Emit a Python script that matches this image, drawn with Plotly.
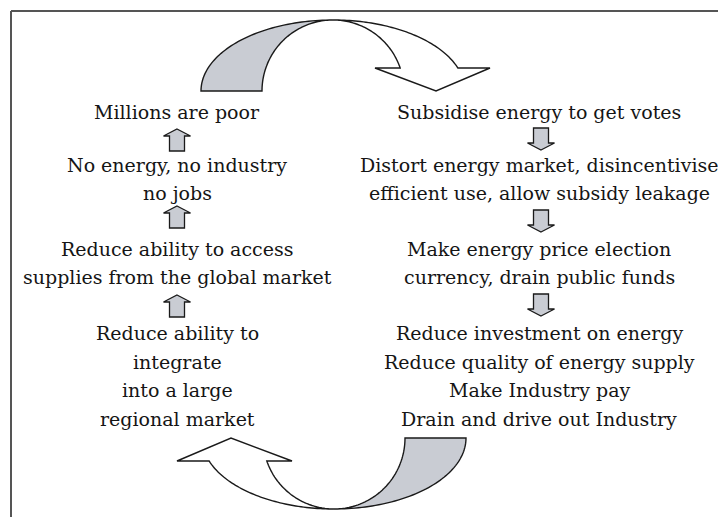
import numpy as np
import plotly.graph_objects as go

W, H = 718, 517

# Text content of the cycle diagram
left_lines = ["Millions are poor", "No energy, no industry", "no jobs",
              "Reduce ability to access", "supplies from the global market",
              "Reduce ability to", "integrate", "into a large", "regional market"]
left_y = [112, 165, 193, 249, 277, 333, 362, 390, 419]

right_lines = ["Subsidise energy to get votes", "Distort energy market, disincentivise",
               "efficient use, allow subsidy leakage", "Make energy price election",
               "currency, drain public funds", "Reduce investment on energy",
               "Reduce quality of energy supply", "Make Industry pay",
               "Drain and drive out Industry"]
right_y = [112, 165, 193, 249, 277, 333, 362, 390, 419]

left_x, right_x = 177, 539
up_arrow_tops = [129, 206, 295]
down_arrow_tops = [128, 210, 294]

GRAY = "#c9ccd3"
LINE = dict(color="#1a1a1a", width=1.4)


def arc(cx, cy, rx, ry, a0, a1, n=60):
    t = np.radians(np.linspace(a0, a1, n))
    return list(zip(cx + rx * np.cos(t), cy - ry * np.sin(t)))


def to_path(pts):
    s = "M %.2f,%.2f " % pts[0]
    s += " ".join("L %.2f,%.2f" % p for p in pts[1:])
    return s + " Z"


def reflect(pts, sx=667, sy=529):
    return [(sx - x, sy - y) for x, y in pts]


cx, cy, rxo, rxi, ry = 333, 91, 132, 71, 71
yh = 68
th = np.degrees(np.arcsin((cy - yh) / ry))
gray_pts = arc(cx, cy, rxo, ry, 180, 90) + arc(cx, cy, rxi, ry, 90, 180)
white_pts = (arc(cx, cy, rxo, ry, 90, th) +
             [(490, yh), (436, 91), (375, yh)] +
             arc(cx, cy, rxi, ry, th, 90))

shapes = []
for pts, fill in [(gray_pts, GRAY), (white_pts, "white"),
                  (reflect(gray_pts), GRAY), (reflect(white_pts), "white")]:
    shapes.append(dict(type="path", path=to_path(pts), xref="x", yref="y",
                       fillcolor=fill, line=LINE, layer="above"))


def block_arrow(xc, top, up=True):
    hw, sw, hh, L = 13.5, 7.5, 7, 22
    if up:
        pts = [(xc, top), (xc + hw, top + hh), (xc + sw, top + hh), (xc + sw, top + L),
               (xc - sw, top + L), (xc - sw, top + hh), (xc - hw, top + hh)]
    else:
        b = top + L
        pts = [(xc, b), (xc + hw, b - hh), (xc + sw, b - hh), (xc + sw, top),
               (xc - sw, top), (xc - sw, b - hh), (xc - hw, b - hh)]
    return dict(type="path", path=to_path(pts), xref="x", yref="y",
                fillcolor=GRAY, line=dict(color="#1a1a1a", width=1.3))


for t in up_arrow_tops:
    shapes.append(block_arrow(left_x, t, True))
for t in down_arrow_tops:
    shapes.append(block_arrow(right_x + 2, t, False))

# frame (top and left edges)
shapes.append(dict(type="line", x0=11, y0=11, x1=W, y1=11, xref="x", yref="y",
                   line=dict(color="#555555", width=2)))
shapes.append(dict(type="line", x0=11, y0=11, x1=11, y1=H, xref="x", yref="y",
                   line=dict(color="#555555", width=2)))

font = dict(family="DejaVu Serif", size=19, color="#151515")
annotations = []
for txt, y in zip(left_lines, left_y):
    annotations.append(dict(x=left_x, y=y, text=txt, showarrow=False, xref="x", yref="y",
                            xanchor="center", yanchor="middle", font=font))
for txt, y in zip(right_lines, right_y):
    annotations.append(dict(x=right_x, y=y, text=txt, showarrow=False, xref="x", yref="y",
                            xanchor="center", yanchor="middle", font=font))

fig = go.Figure()
fig.update_layout(
    width=W, height=H, margin=dict(l=0, r=0, t=0, b=0),
    paper_bgcolor="white", plot_bgcolor="white",
    xaxis=dict(range=[0, W], visible=False, fixedrange=True),
    yaxis=dict(range=[H, 0], visible=False, fixedrange=True),
    shapes=shapes, annotations=annotations, showlegend=False,
)
fig.write_html("out.html", config={"displayModeBar": False},
               post_script="document.body.style.margin='0';document.body.style.overflow='hidden';")
